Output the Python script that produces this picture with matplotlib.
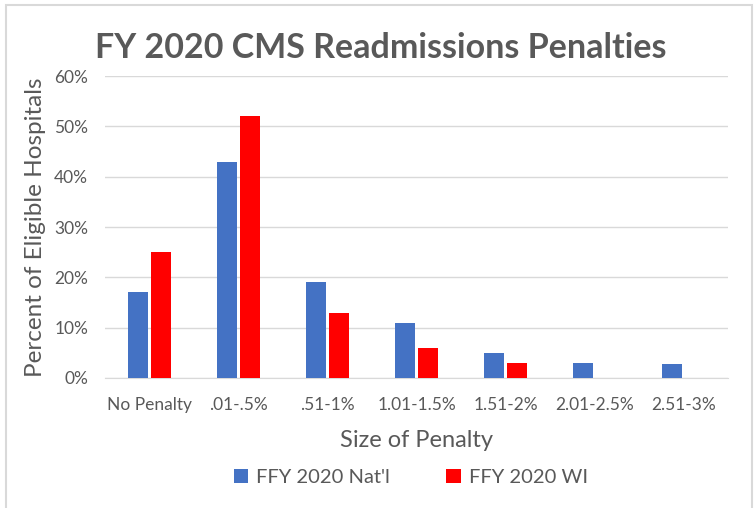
import matplotlib
matplotlib.use("Agg")
import matplotlib.pyplot as plt
import numpy as np
from matplotlib.patches import Rectangle
from matplotlib.ticker import PercentFormatter

categories = ["No Penalty", ".01-.5%", ".51-1%", "1.01-1.5%", "1.51-2%", "2.01-2.5%", "2.51-3%"]
natl = [17, 43, 19, 11, 5, 3, 2.7]
wi = [25, 52, 13, 6, 3, 0, 0]
series_names = ["FFY 2020 Nat'l", "FFY 2020 WI"]

plt.rcParams["font.family"] = ["Lato", "DejaVu Sans"]
text_color = "#595959"

fig = plt.figure(figsize=(7.54, 5.08), dpi=100)
ax = fig.add_axes([0.139, 0.256, 0.827, 0.594])

x = np.arange(len(categories))
w = 0.225
gap = 0.03
ax.bar(x - (w + gap) / 2, natl, w, color="#4472C4", label=series_names[0], zorder=3)
ax.bar(x + (w + gap) / 2, wi, w, color="#FF0000", label=series_names[1], zorder=3)

ax.set_xlim(-0.5, len(categories) - 0.5)
ax.set_ylim(0, 60)
ax.set_yticks(range(0, 61, 10))
ax.yaxis.set_major_formatter(PercentFormatter(decimals=0))
ax.set_xticks(x)
ax.set_xticklabels(categories)
ax.grid(axis="y", color="#d9d9d9", linewidth=1, zorder=0)
for s in ["top", "right", "left"]:
    ax.spines[s].set_visible(False)
ax.spines["bottom"].set_color("#d9d9d9")
ax.tick_params(axis="both", length=0, labelsize=12.5, colors=text_color)
ax.tick_params(axis="y", pad=12)
ax.tick_params(axis="x", pad=14)

ax.set_xlabel("Size of Penalty", fontsize=17, color=text_color, labelpad=12)
ax.set_ylabel("Percent of Eligible Hospitals", fontsize=17.5, color=text_color, labelpad=6)
fig.text(0.505, 0.905, "FY 2020 CMS Readmissions Penalties", ha="center", va="center",
         fontsize=24.5, fontweight="bold", color=text_color)

ax.legend(loc="center", bbox_to_anchor=(0.545, 0.06), bbox_transform=fig.transFigure,
          ncol=2, frameon=False, fontsize=14.5, labelcolor=text_color,
          handlelength=0.7, handleheight=0.7, columnspacing=2.8, handletextpad=0.4)

fig.patches.append(Rectangle((0.008, -0.1), 0.989, 1.09, transform=fig.transFigure,
                             fill=False, edgecolor="#d9d9d9", linewidth=1.5))

fig.savefig("out.png", dpi=100)
